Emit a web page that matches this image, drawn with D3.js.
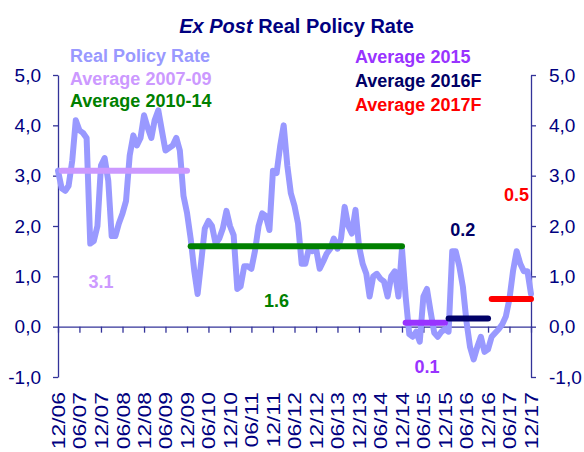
<!DOCTYPE html>
<html><head><meta charset="utf-8">
<script src="https://cdn.jsdelivr.net/npm/d3@7"></script>
<style>
html,body{margin:0;padding:0;background:#fff;}
svg{display:block;font-family:"Liberation Sans",Arial,Helvetica,sans-serif;}
</style></head><body>
<svg id="chart" width="584" height="452"></svg>
<script>
// ---------- DATA ----------
const startMonth = "2006-12";
// monthly ex post real policy rate, Dec 2006 .. Dec 2017
const rateValues = [
  3.1, 2.75, 2.7, 2.8, 3.3, 4.1, 3.9, 3.85, 3.75, 1.65, 1.7, 2.0,
  3.2, 3.35, 2.9, 1.8, 1.8, 2.05, 2.25, 2.5, 3.4, 3.8, 3.6, 3.75,
  4.2, 3.95, 3.75, 4.1, 4.3, 3.9, 3.5, 3.55, 3.6, 3.75, 3.5, 2.6,
  2.26, 1.75, 1.1, 0.65, 1.3, 1.95, 2.1, 2.0, 1.65, 1.75, 1.95, 2.3,
  2.0, 1.82, 0.75, 0.8, 1.2, 1.2, 1.15, 1.5, 2.0, 2.25, 2.2, 1.92,
  3.1, 3.05, 3.6, 4.0, 3.2, 2.65, 2.4, 2.05, 1.25, 1.25, 1.55, 1.5,
  1.55, 1.15, 1.3, 1.45, 1.55, 1.75, 1.55, 1.75, 2.38, 2.0, 1.85, 2.32,
  1.6, 1.25, 1.05, 0.6, 1.0, 1.05, 0.95, 0.9, 0.6, 1.0, 1.1, 0.6,
  1.55, 0.6, -0.15, -0.2, -0.1, -0.3, 0.6, 0.75, 0.3, -0.12, -0.2, -0.1,
  -0.05, -0.1, 1.5, 1.5, 1.2, 0.8, 0.1, -0.4, -0.65, -0.4, -0.2, -0.5,
  -0.45, -0.2, -0.12, -0.05, 0.05, 0.2, 0.55, 1.1, 1.5, 1.25, 1.1, 1.1,
  0.65
];
const seriesName = "Real Policy Rate";
const avgNames  = ["Average 2007-09", "Average 2010-14", "Average 2015", "Average 2016F", "Average 2017F"];
const avgValues = [3.1, 1.6, 0.08, 0.16, 0.55];
const avgLabels = ["3.1", "1.6", "0.1", "0.2", "0.5"];
const avgStart  = ["2007-01", "2010-01", "2015-01", "2016-01", "2017-01"];
const avgEnd    = ["2009-12", "2014-12", "2015-12", "2016-12", "2017-12"];
const xTickMonths = ["2006-12","2007-06","2007-12","2008-06","2008-12","2009-06","2009-12",
  "2010-06","2010-12","2011-06","2011-12","2012-06","2012-12","2013-06","2013-12",
  "2014-06","2014-12","2015-06","2015-12","2016-06","2016-12","2017-06","2017-12"];
const xTickLabels = ["12/06","06/07","12/07","06/08","12/08","06/09","12/09",
  "06/10","12/10","06/11","12/11","06/12","12/12","06/13","12/13",
  "06/14","12/14","06/15","12/15","06/16","12/16","06/17","12/17"];
const yTicks = [-1, 0, 1, 2, 3, 4, 5];
const yTickLabels = ["-1,0", "0,0", "1,0", "2,0", "3,0", "4,0", "5,0"];

// ---------- LAYOUT / STYLE ----------
const W = 584, H = 452;
const plotLeft = 58, plotRight = 531, plotTop = 75, plotBottom = 377;
const navy = "#000080", axisColor = "#333399";
const seriesColor = "#9999FF";
const avgColors = ["#CC99FF", "#008000", "#9933FF", "#000066", "#FF0000"];
// where the value labels sit (month, value)
const avgLabelAt = [["2007-12", 0.76], ["2012-01", 0.4], ["2015-07", -0.93], ["2016-05", 1.81], ["2017-08", 2.5]];
const legendLeft = [{x: 70, y: 62}, {x: 70, y: 85}, {x: 70, y: 107}];
const legendRight = [{x: 355, y: 63}, {x: 355, y: 87}, {x: 355, y: 111}];

const parse = d3.timeParse("%Y-%m");
const svg = d3.select("#chart");
svg.append("rect").attr("width", W).attr("height", H).attr("fill", "#fff");

const x = d3.scaleTime().domain([parse(xTickMonths[0]), parse(xTickMonths[xTickMonths.length - 1])]).range([plotLeft, plotRight]);
const y = d3.scaleLinear().domain([-1, 5]).range([plotBottom, plotTop]);

const t0 = parse(startMonth);
const series = rateValues.map((v, i) => ({date: d3.timeMonth.offset(t0, i), value: v}));

// Title
const title = svg.append("text").attr("x", 296.5).attr("y", 33).attr("text-anchor", "middle")
  .attr("fill", navy).attr("font-size", 20).attr("font-weight", "bold");
title.append("tspan").attr("font-style", "italic").text("Ex Post");
title.append("tspan").text(" Real Policy Rate");

// Axes
function styleAxis(g) {
  g.selectAll(".domain").attr("stroke", axisColor).attr("stroke-width", 1.3);
  g.selectAll(".tick line").attr("stroke", axisColor).attr("stroke-width", 1.3);
  g.selectAll(".tick text").attr("fill", navy).attr("font-family", '"Liberation Sans",Arial,sans-serif');
}
const gl = svg.append("g").attr("transform", `translate(${plotLeft},0)`)
  .call(d3.axisLeft(y).tickValues(yTicks).tickFormat((d, i) => yTickLabels[i]).tickSize(5).tickSizeOuter(0).tickPadding(12));
gl.attr("font-size", 19); styleAxis(gl);
const gr = svg.append("g").attr("transform", `translate(${plotRight},0)`)
  .call(d3.axisRight(y).tickValues(yTicks).tickFormat((d, i) => yTickLabels[i]).tickSize(5).tickSizeOuter(0).tickPadding(13));
gr.attr("font-size", 19); styleAxis(gr);

const tickDates = xTickMonths.map(parse);
const gx = svg.append("g").attr("transform", `translate(0,${y(0)})`)
  .call(d3.axisBottom(x).tickValues(tickDates).tickFormat("").tickSize(6).tickSizeOuter(0));
styleAxis(gx);

const gxl = svg.append("g").attr("transform", `translate(0,392)`)
  .call(d3.axisBottom(x).tickValues(tickDates).tickFormat((d, i) => xTickLabels[i]).tickSize(0));
gxl.select(".domain").remove();
gxl.attr("font-size", 18);
styleAxis(gxl);
gxl.selectAll(".tick text").attr("x", 0).attr("y", 0).attr("dy", "0.36em")
  .attr("text-anchor", "end").attr("transform", "rotate(-90) scale(1.27,1)");

// Series line
svg.append("path").datum(series)
  .attr("fill", "none").attr("stroke", seriesColor).attr("stroke-width", 6)
  .attr("stroke-linejoin", "round").attr("stroke-linecap", "round")
  .attr("d", d3.line().x(d => x(d.date)).y(d => y(d.value)));

// Average lines
avgValues.forEach((v, i) => {
  svg.append("line")
    .attr("x1", x(parse(avgStart[i]))).attr("x2", x(parse(avgEnd[i])))
    .attr("y1", y(v)).attr("y2", y(v))
    .attr("stroke", avgColors[i]).attr("stroke-width", 6).attr("stroke-linecap", "round");
  svg.append("text")
    .attr("x", x(parse(avgLabelAt[i][0]))).attr("y", y(avgLabelAt[i][1]))
    .attr("text-anchor", "middle").attr("font-size", 18).attr("font-weight", "bold")
    .attr("fill", avgColors[i]).text(avgLabels[i]);
});

// Legend (text only)
const legendItems = [{name: seriesName, color: seriesColor}].concat(avgNames.map((n, i) => ({name: n, color: avgColors[i]})));
const legendPos = legendLeft.concat(legendRight);
legendItems.forEach((it, i) => {
  svg.append("text").attr("x", legendPos[i].x).attr("y", legendPos[i].y)
    .attr("font-size", 18).attr("font-weight", "bold").attr("fill", it.color).text(it.name);
});
</script>
</body></html>
